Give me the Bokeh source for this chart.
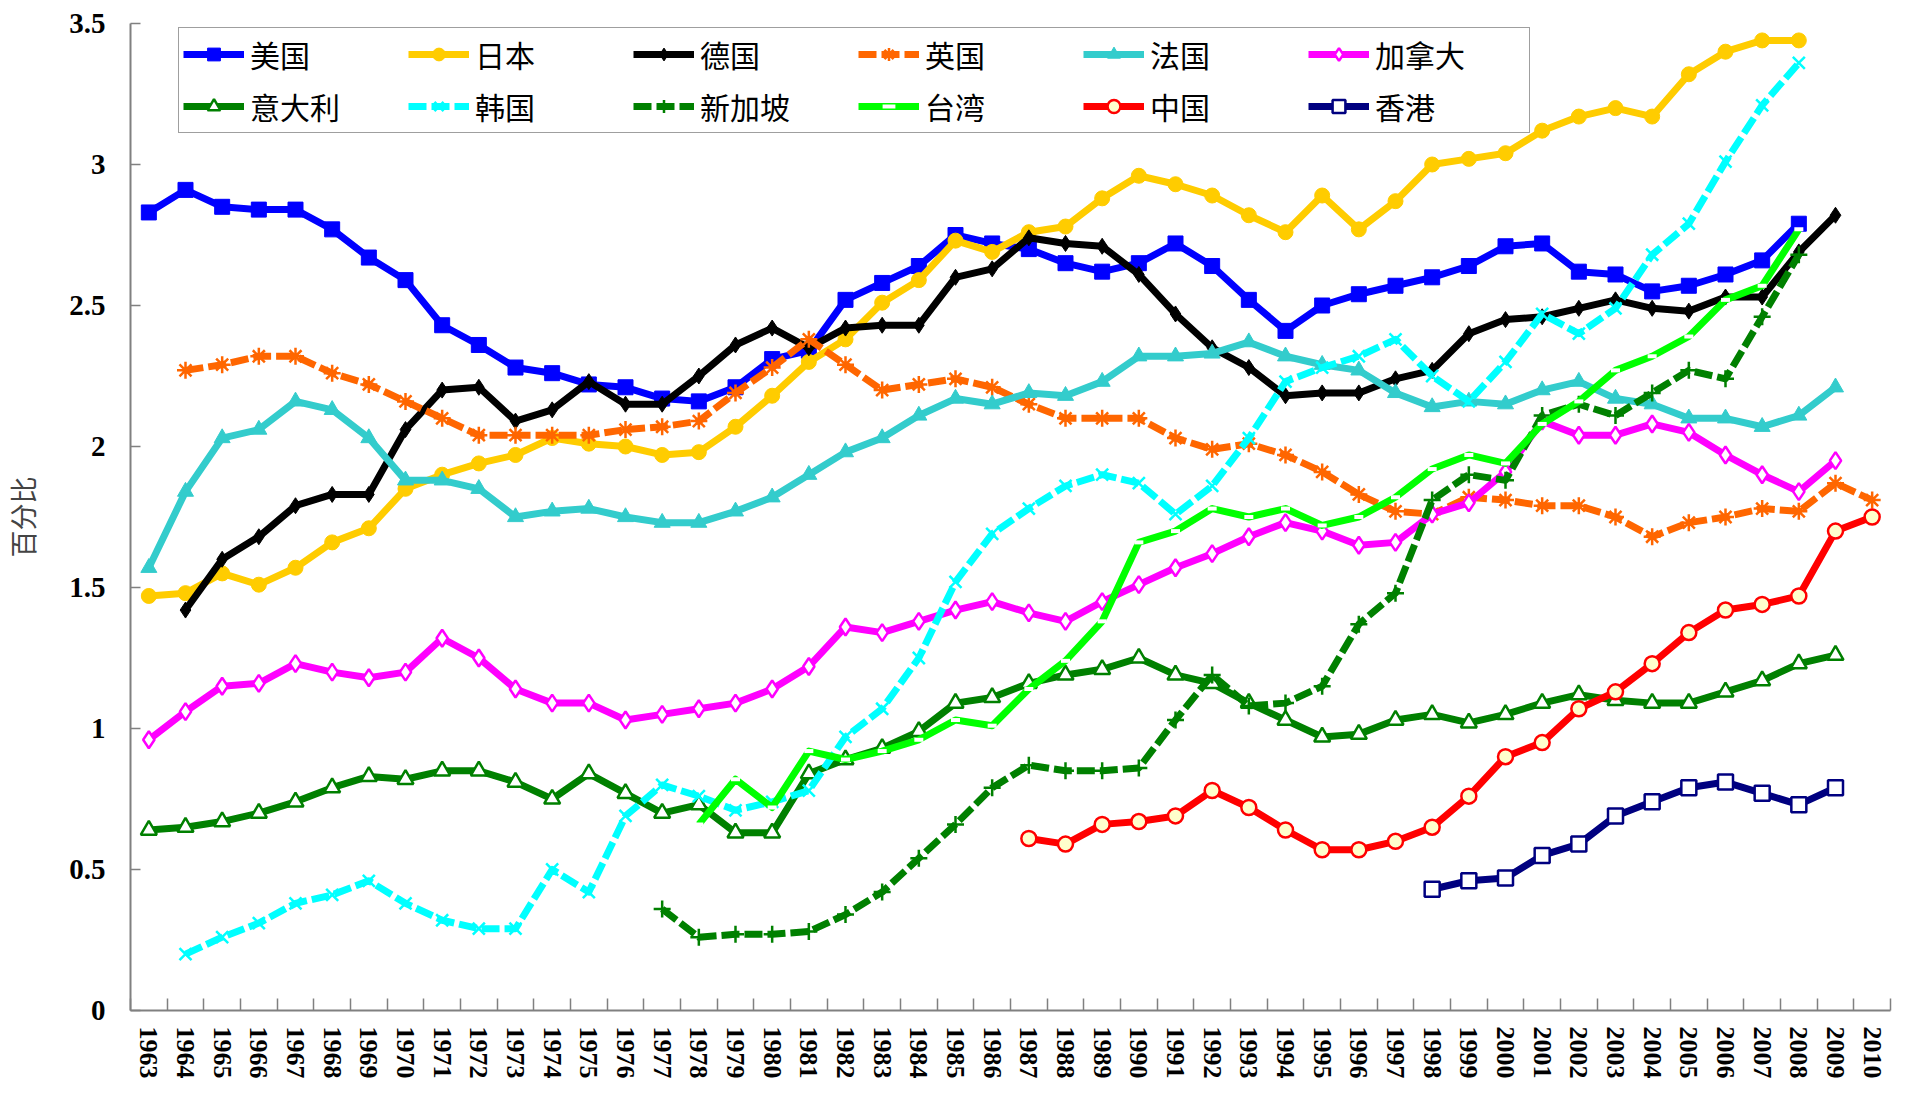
from bokeh.plotting import figure
from bokeh.models import Range1d, FixedTicker, CustomJSTickFormatter, Legend, LegendItem
from bokeh.embed import file_html
from bokeh.resources import INLINE

# ---------------- data ----------------
years = list(range(1963, 2011))
y_ticks = [0, 0.5, 1, 1.5, 2, 2.5, 3, 3.5]

us_start = 1963
us = [2.83, 2.91, 2.85, 2.84, 2.84, 2.77, 2.67, 2.59, 2.43, 2.36, 2.28, 2.26, 2.22, 2.21,
      2.17, 2.16, 2.21, 2.31, 2.34, 2.52, 2.58, 2.64, 2.75, 2.72, 2.70, 2.65, 2.62, 2.65,
      2.72, 2.64, 2.52, 2.41, 2.50, 2.54, 2.57, 2.60, 2.64, 2.71, 2.72, 2.62, 2.61, 2.55,
      2.57, 2.61, 2.66, 2.79]

japan_start = 1963
japan = [1.47, 1.48, 1.55, 1.51, 1.57, 1.66, 1.71, 1.85, 1.90, 1.94, 1.97, 2.03, 2.01, 2.00,
         1.97, 1.98, 2.07, 2.18, 2.30, 2.38, 2.51, 2.59, 2.73, 2.69, 2.76, 2.78, 2.88, 2.96,
         2.93, 2.89, 2.82, 2.76, 2.89, 2.77, 2.87, 3.00, 3.02, 3.04, 3.12, 3.17, 3.20, 3.17,
         3.32, 3.40, 3.44, 3.44]

germany_start = 1964
germany = [1.42, 1.60, 1.68, 1.79, 1.83, 1.83, 2.06, 2.20, 2.21, 2.09, 2.13, 2.23, 2.15,
           2.15, 2.25, 2.36, 2.42, 2.35, 2.42, 2.43, 2.43, 2.60, 2.63, 2.74, 2.72, 2.71,
           2.61, 2.47, 2.35, 2.28, 2.18, 2.19, 2.19, 2.24, 2.27, 2.40, 2.45, 2.46, 2.49,
           2.52, 2.49, 2.48, 2.53, 2.53, 2.69, 2.82]

uk_start = 1964
uk = [2.27, 2.29, 2.32, 2.32, 2.26, 2.22, 2.16, 2.10, 2.04, 2.04, 2.04, 2.04, 2.06, 2.07,
      2.09, 2.19, 2.28, 2.38, 2.29, 2.20, 2.22, 2.24, 2.21, 2.15, 2.10, 2.10, 2.10, 2.03,
      1.99, 2.01, 1.97, 1.91, 1.83, 1.77, 1.76, 1.82, 1.81, 1.79, 1.79, 1.75, 1.68, 1.73,
      1.75, 1.78, 1.77, 1.87, 1.81]

france_start = 1963
france = [1.57, 1.84, 2.03, 2.06, 2.16, 2.13, 2.03, 1.88, 1.88, 1.85, 1.75, 1.77, 1.78, 1.75,
          1.73, 1.73, 1.77, 1.82, 1.90, 1.98, 2.03, 2.11, 2.17, 2.15, 2.19, 2.18, 2.23, 2.32,
          2.32, 2.33, 2.37, 2.32, 2.29, 2.27, 2.19, 2.14, 2.16, 2.15, 2.20, 2.23, 2.17, 2.15,
          2.10, 2.10, 2.07, 2.11, 2.21]

canada_start = 1963
canada = [0.96, 1.06, 1.15, 1.16, 1.23, 1.20, 1.18, 1.20, 1.32, 1.25, 1.14, 1.09, 1.09, 1.03,
          1.05, 1.07, 1.09, 1.14, 1.22, 1.36, 1.34, 1.38, 1.42, 1.45, 1.41, 1.38, 1.45, 1.51,
          1.57, 1.62, 1.68, 1.73, 1.70, 1.65, 1.66, 1.76, 1.80, 1.91, 2.09, 2.04, 2.04, 2.08,
          2.05, 1.97, 1.90, 1.84, 1.95]

italy_start = 1963
italy = [0.64, 0.65, 0.67, 0.70, 0.74, 0.79, 0.83, 0.82, 0.85, 0.85, 0.81, 0.75, 0.84, 0.77,
         0.70, 0.73, 0.63, 0.63, 0.84, 0.89, 0.93, 0.99, 1.09, 1.11, 1.16, 1.19, 1.21, 1.25,
         1.19, 1.16, 1.09, 1.03, 0.97, 0.98, 1.03, 1.05, 1.02, 1.05, 1.09, 1.12, 1.10, 1.09,
         1.09, 1.13, 1.17, 1.23, 1.26]

korea_start = 1964
korea = [0.20, 0.26, 0.31, 0.38, 0.41, 0.46, 0.38, 0.32, 0.29, 0.29, 0.50, 0.42, 0.69, 0.80,
         0.76, 0.71, 0.74, 0.78, 0.97, 1.07, 1.25, 1.52, 1.69, 1.78, 1.86, 1.90, 1.87, 1.76,
         1.86, 2.03, 2.23, 2.28, 2.32, 2.38, 2.25, 2.16, 2.30, 2.47, 2.40, 2.49, 2.68, 2.79,
         3.01, 3.21, 3.36]

singapore_start = 1977
singapore = [0.36, 0.26, 0.27, 0.27, 0.28, 0.34, 0.42, 0.54, 0.66, 0.79, 0.87, 0.85, 0.85,
             0.86, 1.03, 1.19, 1.08, 1.09, 1.15, 1.37, 1.48, 1.81, 1.90, 1.88, 2.11, 2.15,
             2.11, 2.19, 2.27, 2.24, 2.46, 2.68]

taiwan_start = 1978
taiwan = [0.66, 0.82, 0.72, 0.92, 0.89, 0.92, 0.96, 1.03, 1.01, 1.14, 1.24, 1.38, 1.66, 1.70,
          1.78, 1.75, 1.78, 1.72, 1.75, 1.82, 1.92, 1.97, 1.94, 2.08, 2.16, 2.27, 2.32, 2.39,
          2.52, 2.57, 2.77]

china_start = 1987
china = [0.61, 0.59, 0.66, 0.67, 0.69, 0.78, 0.72, 0.64, 0.57, 0.57, 0.60, 0.65, 0.76, 0.90,
         0.95, 1.07, 1.13, 1.23, 1.34, 1.42, 1.44, 1.47, 1.70, 1.75]

hk_start = 1998
hk = [0.43, 0.46, 0.47, 0.55, 0.59, 0.69, 0.74, 0.79, 0.81, 0.77, 0.73, 0.79]

series = [
    ("美国", us_start, us, dict(color="#0000FF", dash="solid", marker="square", size=15,
                                fill="#0000FF", mline="#0000FF", mlw=1)),
    ("日本", japan_start, japan, dict(color="#FFCC00", dash="solid", marker="circle", size=15,
                                    fill="#FFCC00", mline="#FFCC00", mlw=1)),
    ("德国", germany_start, germany, dict(color="#000000", dash="solid", marker="diamond", size=16,
                                        fill="#000000", mline="#000000", mlw=1)),
    ("英国", uk_start, uk, dict(color="#FF6600", dash="18 5", marker="asterisk", size=17,
                              fill="#FF6600", mline="#FF6600", mlw=2.5)),
    ("法国", france_start, france, dict(color="#33CCCC", dash="solid", marker="triangle", size=16,
                                      fill="#33CCCC", mline="#33CCCC", mlw=1)),
    ("加拿大", canada_start, canada, dict(color="#FF00FF", dash="solid", marker="diamond", size=17,
                                       fill="#FFFFFF", mline="#FF00FF", mlw=2.5)),
    ("意大利", italy_start, italy, dict(color="#008000", dash="solid", marker="triangle", size=16,
                                      fill="#FFFFFF", mline="#008000", mlw=2.5)),
    ("韩国", korea_start, korea, dict(color="#00FFFF", dash="18 5", marker="x", size=17,
                                    fill="#00FFFF", mline="#00FFFF", mlw=2.5)),
    ("新加坡", singapore_start, singapore, dict(color="#008000", dash="18 5", marker="cross", size=17,
                                             fill="#008000", mline="#008000", mlw=2.5)),
    ("台湾", taiwan_start, taiwan, dict(color="#00FF00", dash="solid", marker="dash", size=9,
                                      fill="#FFFFFF", mline="#FFFFFF", mlw=4)),
    ("中国", china_start, china, dict(color="#FF0000", dash="solid", marker="circle", size=15,
                                    fill="#FFFFCC", mline="#FF0000", mlw=2.5)),
    ("香港", hk_start, hk, dict(color="#000080", dash="solid", marker="square", size=15,
                              fill="#FFFFFF", mline="#000080", mlw=2.5)),
]

# ---------------- figure ----------------
p = figure(width=1895, height=1082,
           x_range=Range1d(years[0] - 0.5, years[-1] + 0.5),
           y_range=Range1d(y_ticks[0], y_ticks[-1]),
           output_backend="svg", toolbar_location=None,
           min_border_left=128, min_border_right=5, min_border_top=23, min_border_bottom=72)
p.xgrid.visible = False
p.ygrid.visible = False
p.outline_line_color = None
p.background_fill_color = "white"

xa = p.xaxis[0]
xa.ticker = FixedTicker(ticks=years, minor_ticks=[y - 0.5 for y in years] + [years[-1] + 0.5])
xa.formatter = CustomJSTickFormatter(code="return String(Math.round(tick));")
xa.major_tick_line_color = None
xa.minor_tick_in = 12
xa.minor_tick_out = 0
xa.minor_tick_line_color = "#808080"
xa.minor_tick_line_width = 1.5
xa.axis_line_color = "#808080"
xa.axis_line_width = 2
xa.major_label_orientation = "vertical"
xa.major_label_text_font = "Liberation Serif"
xa.major_label_text_font_style = "bold"
xa.major_label_text_font_size = "26px"
xa.major_label_text_color = "black"
xa.major_label_standoff = 10

ya = p.yaxis[0]
ya.ticker = FixedTicker(ticks=y_ticks)
ya.formatter = CustomJSTickFormatter(code="return String(tick);")
ya.major_tick_in = 10
ya.major_tick_out = 0
ya.major_tick_line_color = "#808080"
ya.major_tick_line_width = 1.5
ya.minor_tick_line_color = None
ya.axis_line_color = "#808080"
ya.axis_line_width = 2
ya.major_label_text_font = "Liberation Serif"
ya.major_label_text_font_style = "bold"
ya.major_label_text_font_size = "29px"
ya.major_label_text_color = "black"
ya.major_label_standoff = 25
ya.axis_label = "百分比"
ya.axis_label_text_font = "Noto Sans CJK SC"
ya.axis_label_text_font_style = "normal"
ya.axis_label_text_font_size = "27px"
ya.axis_label_standoff = 24

items = []
for name, start, vals, st in series:
    xs = list(range(start, start + len(vals)))
    ln = p.line(xs, vals, line_color=st["color"], line_width=7, line_dash=st["dash"],
                line_join="round")
    mk = p.scatter(xs, vals, marker=st["marker"], size=st["size"], fill_color=st["fill"],
                   line_color=st["mline"], line_width=st["mlw"])
    items.append(LegendItem(label=name, renderers=[ln, mk]))

legend = Legend(items=items, location=(48, 877), orientation="horizontal", ncols=6,
                label_text_font="Noto Sans CJK SC", label_text_font_size="30px",
                label_text_color="black",
                glyph_width=61, glyph_height=32, label_standoff=6, label_width=150,
                label_height=32, spacing=8, padding=4,
                border_line_color="#404040", border_line_width=1.5,
                background_fill_color="white", background_fill_alpha=1.0)
p.add_layout(legend, "center")

open("out.html", "w").write(file_html(p, INLINE))
